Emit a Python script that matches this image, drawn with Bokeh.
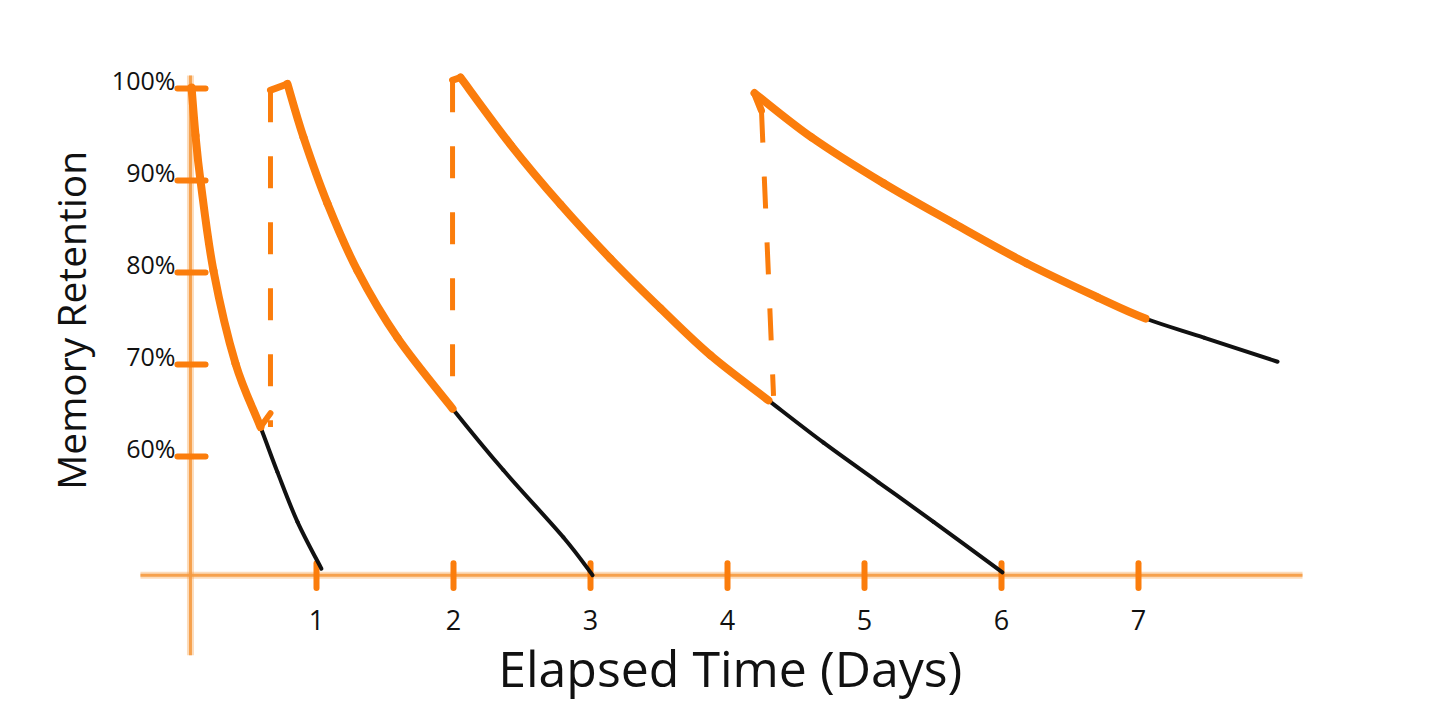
from bokeh.plotting import figure
from bokeh.models import Range1d
from bokeh.core.properties import value
from bokeh.embed import file_html
from bokeh.resources import INLINE

# ---- data (days, retention %) ----
c1_day = [0.088, 0.117, 0.153, 0.248, 0.409, 0.591, 0.715, 0.861, 1.036]
c1_ret = [100.1, 94.9, 90.0, 80.2, 70.1, 63.2, 58.3, 52.9, 47.8]
c1_rev = 6  # points in the reviewed (orange) part

c2_day = [0.788, 0.905, 1.080, 1.299, 1.591, 1.993, 2.365, 2.803, 3.015]
c2_ret = [100.5, 94.7, 87.5, 80.2, 72.9, 65.2, 58.5, 51.2, 47.1]
c2_rev = 6

c3_day = [2.051, 2.416, 2.781, 3.146, 3.511, 3.876, 4.299, 4.701, 5.102, 5.504, 6.007]
c3_ret = [101.2, 93.9, 87.4, 81.5, 76.1, 71.0, 66.1, 61.5, 57.2, 52.9, 47.4]
c3_rev = 7

c4_day = [4.197, 4.613, 5.139, 5.657, 6.182, 6.701, 7.051, 7.482, 8.015]
c4_ret = [99.5, 94.7, 89.7, 85.3, 81.0, 77.3, 75.0, 72.9, 70.3]
c4_rev = 7

# review jumps (dashed): top point and bottom point
review_top_day = [0.664, 1.993, 4.248]
review_top_ret = [99.8, 100.9, 97.6]
review_bot_day = [0.664, 1.993, 4.336]
review_bot_ret = [63.2, 65.2, 66.6]

x_ticks = [1, 2, 3, 4, 5, 6, 7]
x_tick_labels = ["1", "2", "3", "4", "5", "6", "7"]
y_ticks = [100, 90, 80, 70, 60]
y_tick_labels = ["100%", "90%", "80%", "70%", "60%"]

x_title = "Elapsed Time (Days)"
y_title = "Memory Retention"

# ---- styling ----
ORANGE = "#fb7d0c"
AXIS_ORANGE = "#f59a40"
INK = "#111111"
FONT = "Open Sans"


def smooth_segments(xs, ys):
    """Cubic Bezier pieces (Catmull-Rom) through the given points."""
    n = len(xs)
    segs = []
    for i in range(n - 1):
        i0 = max(i - 1, 0)
        i3 = min(i + 2, n - 1)
        cx0 = xs[i] + (xs[i + 1] - xs[i0]) / 6.0
        cy0 = ys[i] + (ys[i + 1] - ys[i0]) / 6.0
        cx1 = xs[i + 1] - (xs[i3] - xs[i]) / 6.0
        cy1 = ys[i + 1] - (ys[i3] - ys[i]) / 6.0
        segs.append((xs[i], ys[i], xs[i + 1], ys[i + 1], cx0, cy0, cx1, cy1))
    return segs


def draw_bezier(p, segs, **kw):
    p.bezier(x0=[s[0] for s in segs], y0=[s[1] for s in segs],
             x1=[s[2] for s in segs], y1=[s[3] for s in segs],
             cx0=[s[4] for s in segs], cy0=[s[5] for s in segs],
             cx1=[s[6] for s in segs], cy1=[s[7] for s in segs], **kw)


p = figure(width=1440, height=712, output_backend="svg", toolbar_location=None,
           x_range=Range1d(-1.3066, 9.2044), y_range=Range1d(32.174, 109.565),
           min_border=0)
p.axis.visible = False
p.grid.visible = False
p.outline_line_color = None
p.background_fill_color = "white"

# axes (crayon look: soft wide stroke under a thinner one)
y_axis_day = 0.08
x_axis_ret = 47.1
for w, a in [(7, 0.35), (3, 0.9)]:
    p.segment(x0=[-0.285], y0=[x_axis_ret], x1=[8.197], y1=[x_axis_ret],
              line_color=AXIS_ORANGE, line_width=w, line_alpha=a)
    p.segment(x0=[y_axis_day], y0=[101.4], x1=[y_axis_day], y1=[38.4],
              line_color=AXIS_ORANGE, line_width=w, line_alpha=a)
p.segment(x0=x_ticks, y0=[x_axis_ret + 1.3] * len(x_ticks), x1=x_ticks,
          y1=[x_axis_ret - 1.4] * len(x_ticks), line_color=ORANGE, line_width=6,
          line_cap="round")
p.segment(x0=[y_axis_day - 0.095] * len(y_ticks), y0=y_ticks,
          x1=[y_axis_day + 0.11] * len(y_ticks), y1=y_ticks,
          line_color=ORANGE, line_width=6, line_cap="round")

curves = [(c1_day, c1_ret, c1_rev), (c2_day, c2_ret, c2_rev),
          (c3_day, c3_ret, c3_rev), (c4_day, c4_ret, c4_rev)]

# black forgetting curves
for d, r, n in curves:
    draw_bezier(p, smooth_segments(d, r), line_color=INK, line_width=4, line_cap="round")

# orange reviewed parts
for d, r, n in curves:
    draw_bezier(p, smooth_segments(d, r)[:n - 1], line_color=ORANGE, line_width=8,
                line_cap="round")

# dashed review jumps (drawn from the top down)
p.segment(x0=review_top_day, y0=review_top_ret, x1=review_bot_day, y1=review_bot_ret,
          line_color=ORANGE, line_width=5, line_dash="32 34")
# bottom hook joining the first curve's end to its jump
p.segment(x0=[c1_day[c1_rev - 1]], y0=[c1_ret[c1_rev - 1]],
          x1=[review_bot_day[0]], y1=[review_bot_ret[0] + 1.5],
          line_color=ORANGE, line_width=6, line_cap="round")
# small caps joining jumps to the next curve
p.segment(x0=review_top_day, y0=review_top_ret,
          x1=[c2_day[0], c3_day[0], c4_day[0]], y1=[c2_ret[0], c3_ret[0], c4_ret[0]],
          line_color=ORANGE, line_width=7, line_cap="round")

# tick labels
p.text(x=x_ticks, y=[42.2] * len(x_ticks), text=x_tick_labels,
       text_align="center", text_baseline="middle", text_font=value(FONT),
       text_font_size="27px", text_color=INK)
p.text(x=[-0.03] * len(y_ticks), y=[t + 0.87 for t in y_ticks], text=y_tick_labels,
       text_align="right", text_baseline="middle", text_font=value(FONT),
       text_font_size="25px", text_color=INK)

# axis titles
p.text(x=[4.02], y=[37.0], text=[x_title], text_align="center", text_baseline="middle",
       text_font=value(FONT), text_font_size="50px", text_color=INK)
p.text(x=[-0.796], y=[74.8], text=[y_title], angle=1.5708, text_align="center",
       text_baseline="middle", text_font=value(FONT), text_font_size="39px", text_color=INK)

open("out.html", "w").write(file_html(p, INLINE))
